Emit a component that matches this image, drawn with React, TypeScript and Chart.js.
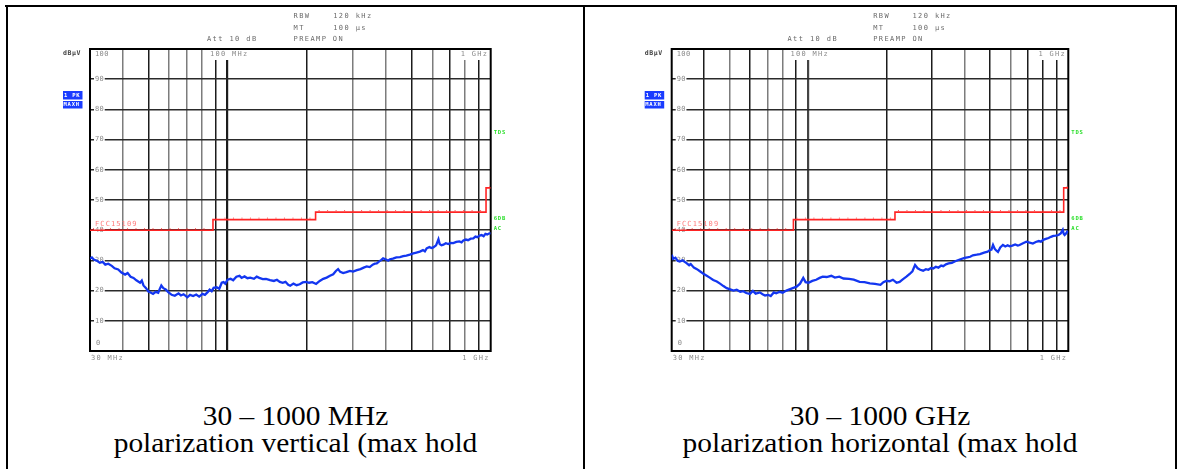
import React, { useEffect, useRef } from 'react';
import { Chart, registerables } from 'chart.js';

Chart.register(...registerables);

// ---------- data ----------
const X_GRID_MHZ = [30, 40, 50, 60, 70, 80, 90, 100, 200, 300, 400, 500, 600, 700, 800, 900, 1000];
const Y_TICKS = [0, 10, 20, 30, 40, 50, 60, 70, 80, 90, 100];

const LIMIT_FREQ = [30, 88, 216, 960, 1000];
const LIMIT_LEVEL = [40, 43.5, 46, 54, 54];
const LIMIT_NAME = 'FCC15109';

const VERT_FREQ = [
  30, 30.5, 31, 32, 32.7, 33.5, 34.3, 35.2, 36.3, 37.2, 38.4, 39.5, 40.8, 41.7, 42.8, 43.9, 45, 46.5, 47.2, 47.9,
  49, 50, 51, 52.1, 53.3, 54.5, 55.2, 56, 57, 58.2, 59.5, 61.3, 63, 65.1, 66.5, 68, 70.3, 72, 74, 76,
  78, 80.3, 82, 84, 85.5, 87, 88.5, 90.9, 93, 95, 96.5, 98, 100, 102.7, 105, 108, 111, 113, 116, 119,
  122, 126, 129, 132, 136, 140, 145, 150, 154, 158, 162, 166, 170, 173, 178, 183, 188, 193, 199, 204,
  210, 217, 224, 231, 238, 245, 252, 258, 263, 268, 275, 283, 292, 300, 310, 320, 329, 338, 347, 356,
  363, 369, 376, 383, 390, 400, 408, 414, 425, 438, 452, 465, 478, 493, 508, 522, 538, 553, 562, 571,
  585, 596, 605, 620, 633, 640, 650, 661, 675, 690, 705, 721, 740, 760, 775, 787, 805, 820, 840, 859,
  875, 890, 908, 924, 940, 955, 970, 985, 1000,
];
const VERT_LEVEL = [
  30.6, 31.0, 30.3, 29.8, 29.2, 29.5, 28.6, 28.9, 28.2, 27.4, 27.0, 26.0, 25.3, 25.8, 24.6, 24.2, 23.4, 22.6, 23.3, 21.7,
  20.8, 19.7, 19.4, 18.9, 19.6, 19.3, 20.5, 21.7, 20.8, 20.4, 19.5, 18.6, 18.3, 19.1, 18.4, 18.8, 17.8, 18.6, 18.2, 18.7,
  18.0, 18.9, 18.6, 19.5, 20.3, 19.8, 20.9, 21.1, 20.6, 22.6, 22.8, 22.3, 23.6, 23.9, 23.4, 24.6, 24.9, 24.2, 24.7, 24.1,
  24.3, 23.9, 24.6, 24.2, 23.8, 23.9, 23.5, 23.2, 23.6, 22.9, 22.6, 22.9, 21.9, 21.6, 22.3, 21.8, 22.1, 22.7, 22.9, 22.6,
  22.8, 22.2, 23.2, 23.9, 24.3, 24.9, 25.4, 26.5, 27.1, 26.2, 25.8, 26.1, 26.5, 26.3, 26.8, 27.1, 27.6, 28.0, 27.8, 28.6,
  28.9, 29.0, 29.6, 30.1, 30.7, 30.3, 29.9, 30.4, 30.6, 31.0, 31.1, 31.4, 31.6, 31.9, 32.3, 32.6, 32.9, 33.4, 33.0, 34.0,
  34.4, 34.1, 34.3, 35.0, 37.0, 35.4, 35.0, 35.2, 35.7, 35.4, 35.8, 35.7, 36.1, 36.3, 36.0, 36.6, 36.9, 36.7, 37.2, 37.3,
  37.9, 37.7, 38.2, 38.4, 38.0, 38.8, 38.6, 38.9, 39.0,
];

const HORIZ_FREQ = [
  30, 30.4, 31, 31.6, 32.2, 33, 34.2, 35, 35.5, 36.5, 37.5, 38.5, 39.7, 40.9, 42, 43.3, 44.7, 46, 47.4, 48.8,
  50.3, 51.8, 53.3, 55, 56.5, 58, 59.9, 61.5, 63, 65.4, 67, 68.5, 70.4, 72, 74, 75.6, 78, 80, 82.7, 85,
  88, 90.5, 93.3, 96, 98, 100.6, 104, 107.6, 111, 114, 118, 123, 127, 132, 137, 144, 150, 158, 165, 173,
  181, 190, 195, 200, 206, 212, 219, 225, 232, 239, 246, 252, 258, 264, 270, 277, 284, 290, 297, 303,
  310, 317, 325, 331, 339, 347, 357, 368, 383, 400, 410, 420, 430, 445, 458, 475, 490, 500, 507, 514,
  522, 530, 537, 548, 561, 573, 585, 595, 610, 625, 640, 650, 670, 690, 710, 731, 750, 770, 785, 801,
  820, 840, 858, 876, 895, 917, 935, 952, 960, 968, 980, 990, 1000,
];
const HORIZ_LEVEL = [
  31.9, 30.5, 30.9, 29.9, 29.6, 30.0, 29.1, 28.4, 28.8, 27.6, 27.1, 26.4, 25.6, 24.9, 24.3, 23.5, 23.0, 22.3, 21.5, 20.8,
  20.4, 20.0, 20.3, 19.6, 19.8, 19.2, 18.9, 19.9, 19.0, 19.4, 18.8, 18.4, 18.6, 18.2, 19.4, 19.1, 19.6, 19.3, 20.0, 20.4,
  20.9, 21.3, 22.3, 24.2, 22.8, 22.6, 23.2, 23.6, 24.2, 24.6, 24.5, 24.9, 24.3, 24.6, 24.0, 23.9, 23.6, 22.9, 22.8, 22.4,
  22.2, 21.9, 22.8, 23.2, 23.1, 23.6, 22.6, 22.9, 23.8, 24.6, 25.5, 26.4, 28.5, 27.4, 26.9, 26.6, 27.1, 26.9, 27.5, 27.3,
  27.9, 27.6, 28.3, 28.1, 28.7, 29.0, 29.2, 29.7, 30.3, 30.8, 31.0, 31.2, 31.7, 31.9, 32.1, 32.6, 32.9, 33.4, 33.6, 35.1,
  33.8, 33.2, 32.8, 34.3, 35.1, 34.6, 35.0, 34.7, 34.9, 35.3, 34.9, 35.1, 35.7, 36.2, 35.9, 35.6, 36.1, 36.4, 36.2, 36.8,
  37.1, 37.4, 37.8, 38.1, 38.2, 38.4, 38.9, 40.1, 38.8, 38.4, 38.9, 39.5, 39.2,
];

const HEADER_RBW = ['RBW', '120 kHz'];
const HEADER_MT = ['MT', '100 µs'];
const HEADER_PREAMP = 'PREAMP ON';
const HEADER_ATT = 'Att 10 dB';
const UNIT_LABEL = 'dBµV';
const TRACE_TAGS = ['1 PK', 'MAXH'];
const SIDE_TAGS = ['TDS', '6DB', 'AC'];
const FREQ_LABEL_MID = '100 MHz';
const FREQ_LABEL_START = '30 MHz';
const FREQ_LABEL_END = '1 GHz';

const CAPTION_LEFT = ['30 – 1000 MHz', 'polarization vertical (max hold'];
const CAPTION_RIGHT = ['30 – 1000 GHz', 'polarization horizontal (max hold'];

// ---------- styles ----------
const GREY = '#7c7c7c';
const DARK = '#1c1c1c';
const LEFT_VGRID: Record<number, string> = {
  40: GREY, 50: DARK, 60: GREY, 70: GREY, 80: GREY, 90: DARK, 100: DARK,
  200: DARK, 300: GREY, 400: GREY, 500: DARK, 600: GREY, 700: DARK, 800: GREY, 900: DARK,
};
const RIGHT_VGRID: Record<number, string> = {
  40: DARK, 50: GREY, 60: DARK, 70: GREY, 80: GREY, 90: DARK, 100: '#444',
  200: DARK, 300: DARK, 400: GREY, 500: DARK, 600: GREY, 700: DARK, 800: DARK, 900: DARK,
};

const MONO = '"DejaVu Sans Mono", monospace';

function setFont(ctx: CanvasRenderingContext2D, size: number, weight: string, spacing: number) {
  ctx.font = `${weight} ${size}px ${MONO}`;
  try {
    (ctx as any).letterSpacing = `${spacing}px`;
  } catch (e) {
    /* ignore */
  }
}

function makeOverlay() {
  return {
    id: 'analyzerOverlay',
    beforeDatasetsDraw(chart: any) {
      const { ctx, chartArea } = chart;
      const { left, right, top, bottom } = chartArea;
      const w = right - left;
      const h = bottom - top;
      const yScale = chart.scales.y;
      ctx.save();
      ctx.textBaseline = 'middle';
      ctx.textAlign = 'left';

      // y labels inside the grid
      setFont(ctx, 7, 'normal', 0.4);
      Y_TICKS.forEach((v) => {
        const txt = String(v);
        const tw = ctx.measureText(txt).width;
        let x = left + 5;
        let y = yScale.getPixelForValue(v);
        if (v === 100) y = top + 5;
        if (v === 0) {
          x = left + 6;
          y = bottom - 8;
        }
        ctx.fillStyle = '#fff';
        ctx.fillRect(x - 1, y - 3.5, tw + 1.5, 7);
        ctx.fillStyle = '#8a8a8a';
        ctx.fillText(txt, x, y);
      });

      // top frequency labels
      setFont(ctx, 7, 'normal', 1.3);
      [
        [FREQ_LABEL_MID, left + 0.2995 * w],
        [FREQ_LABEL_END, left + 0.925 * w],
      ].forEach(([txt, x]: any) => {
        const tw = ctx.measureText(txt).width;
        ctx.fillStyle = '#fff';
        ctx.fillRect(x - 1, top + 1, tw + 1, 10);
        ctx.fillStyle = '#8a8a8a';
        ctx.fillText(txt, x, top + 5);
      });

      // limit line name
      setFont(ctx, 7, 'normal', 1.1);
      ctx.fillStyle = '#ff7a7a';
      ctx.fillText(LIMIT_NAME, left + 5, top + 0.58 * h);

      // frame
      ctx.strokeStyle = '#000';
      ctx.lineWidth = 2;
      ctx.strokeRect(left, top, w, h);
      ctx.restore();
    },
    afterDatasetsDraw(chart: any) {
      // small marker dots just above the limit line (instrument style)
      const { ctx, scales } = chart;
      ctx.save();
      ctx.strokeStyle = '#ff5050';
      ctx.lineWidth = 1;
      ctx.setLineDash([1, 7.5]);
      ctx.beginPath();
      for (let i = 0; i < LIMIT_FREQ.length - 1; i++) {
        const x0 = scales.x.getPixelForValue(LIMIT_FREQ[i]);
        const x1 = scales.x.getPixelForValue(LIMIT_FREQ[i + 1]);
        const y = scales.y.getPixelForValue(LIMIT_LEVEL[i]) - 1.5;
        ctx.moveTo(x0 + 3, y);
        ctx.lineTo(x1 - 1, y);
      }
      ctx.stroke();
      ctx.restore();
    },
    afterDraw(chart: any) {
      const { ctx, chartArea } = chart;
      const { left, right, top, bottom } = chartArea;
      const w = right - left;
      const h = bottom - top;
      ctx.save();
      ctx.textBaseline = 'middle';
      ctx.textAlign = 'left';

      // header texts
      setFont(ctx, 7, 'normal', 1.4);
      ctx.fillStyle = '#6a6a6a';
      const hx = left + 0.508 * w;
      const hx2 = left + 0.607 * w;
      ctx.fillText(HEADER_RBW[0], hx, top - 33);
      ctx.fillText(HEADER_RBW[1], hx2, top - 33);
      ctx.fillText(HEADER_MT[0], hx, top - 21);
      ctx.fillText(HEADER_MT[1], hx2, top - 21);
      ctx.fillText(HEADER_PREAMP, hx, top - 10);
      ctx.fillText(HEADER_ATT, left + 0.292 * w, top - 10);

      // unit
      setFont(ctx, 6.5, 'bold', 0.6);
      ctx.fillStyle = '#444';
      ctx.fillText(UNIT_LABEL, left - 27, top + 4);

      // trace tags
      ctx.fillStyle = '#1a3cff';
      ctx.fillRect(left - 27, top + 42, 19.5, 8.5);
      ctx.fillRect(left - 27, top + 52, 19.5, 7.5);
      setFont(ctx, 5.5, 'bold', 0.8);
      ctx.fillStyle = '#fff';
      ctx.fillText(TRACE_TAGS[0], left - 26, top + 46.5);
      ctx.fillText(TRACE_TAGS[1], left - 26.5, top + 56);

      // green side tags
      setFont(ctx, 5.5, 'bold', 0.8);
      ctx.fillStyle = '#2adf2a';
      ctx.fillText(SIDE_TAGS[0], right + 3, top + 0.278 * h);
      ctx.fillText(SIDE_TAGS[1], right + 3, top + 0.56 * h);
      ctx.fillText(SIDE_TAGS[2], right + 3, top + 0.593 * h);

      // bottom frequency labels
      setFont(ctx, 7, 'normal', 1.3);
      ctx.fillStyle = '#8a8a8a';
      ctx.fillText(FREQ_LABEL_START, left + 1, bottom + 7);
      ctx.textAlign = 'right';
      ctx.fillText(FREQ_LABEL_END, right - 1, bottom + 7);
      ctx.restore();
    },
  };
}

type Geom = { left: number; width: number; pad: { left: number; right: number; top: number; bottom: number } };

function AnalyzerChart({
  freq,
  level,
  vgrid,
  geom,
}: {
  freq: number[];
  level: number[];
  vgrid: Record<number, string>;
  geom: Geom;
}) {
  const ref = useRef<HTMLCanvasElement>(null);
  useEffect(() => {
    if (!ref.current) return;
    const chart = new Chart(ref.current, {
      type: 'line',
      data: {
        datasets: [
          {
            data: LIMIT_FREQ.map((f, i) => ({ x: f, y: LIMIT_LEVEL[i] })),
            borderColor: '#ff2424',
            borderWidth: 1.6,
            stepped: true,
            pointRadius: 0,
            fill: false,
          },
          {
            data: freq.map((f, i) => ({ x: f, y: level[i] })),
            borderColor: '#1336f0',
            borderWidth: 2.3,
            pointRadius: 0,
            tension: 0,
            fill: false,
          },
        ],
      } as any,
      options: {
        responsive: false,
        animation: false,
        events: [],
        layout: { padding: geom.pad },
        plugins: { legend: { display: false }, tooltip: { enabled: false } },
        scales: {
          x: {
            type: 'logarithmic',
            min: 30,
            max: 1000,
            afterBuildTicks: (axis: any) => {
              axis.ticks = X_GRID_MHZ.map((v) => ({ value: v }));
            },
            ticks: { display: false },
            border: { display: false },
            grid: {
              drawTicks: false,
              color: (c: any) => vgrid[c.tick?.value] || 'rgba(0,0,0,0)',
              lineWidth: (c: any) => (c.tick?.value === 100 ? 2.2 : 1.5),
            },
          },
          y: {
            type: 'linear',
            min: 0,
            max: 100,
            ticks: { display: false, stepSize: 10 },
            border: { display: false },
            grid: {
              drawTicks: false,
              color: (c: any) => (c.tick?.value === 0 || c.tick?.value === 100 ? 'rgba(0,0,0,0)' : '#2a2a2a'),
              lineWidth: 1.5,
            },
          },
        },
      } as any,
      plugins: [makeOverlay() as any],
    });
    return () => chart.destroy();
  }, []);
  return (
    <canvas
      ref={ref}
      width={geom.width}
      height={362}
      style={{ position: 'absolute', left: geom.left, top: 8, width: geom.width, height: 362 }}
    />
  );
}

const LEFT_GEOM: Geom = { left: 8, width: 574, pad: { left: 82, right: 91.3, top: 41, bottom: 19 } };
const RIGHT_GEOM: Geom = { left: 586, width: 588, pad: { left: 85.7, right: 105.7, top: 41, bottom: 19 } };

function Caption({ lines, left, width }: { lines: string[]; left: number; width: number }) {
  return (
    <div
      style={{
        position: 'absolute',
        left,
        width,
        top: 403,
        textAlign: 'center',
        fontFamily: '"Liberation Serif", "Times New Roman", serif',
        fontSize: 27,
        lineHeight: '27px',
        color: '#000',
        transform: 'scaleX(1.09)',
        transformOrigin: 'center',
        whiteSpace: 'nowrap',
      }}
    >
      {lines.map((l, i) => (
        <div key={i}>{l}</div>
      ))}
    </div>
  );
}

export default function App() {
  const border = (l: number, t: number, w: number, h: number) => (
    <div style={{ position: 'absolute', left: l, top: t, width: w, height: h, background: '#000' }} />
  );
  return (
    <div
      style={{
        position: 'absolute',
        left: 0,
        top: 0,
        width: 1179,
        height: 469,
        background: '#fff',
        overflow: 'hidden',
      }}
    >
      {border(5, 5, 1172, 2)}
      {border(6, 5, 2, 470)}
      {border(583, 5, 2, 470)}
      {border(1175, 5, 2, 470)}
      <AnalyzerChart freq={VERT_FREQ} level={VERT_LEVEL} vgrid={LEFT_VGRID} geom={LEFT_GEOM} />
      <AnalyzerChart freq={HORIZ_FREQ} level={HORIZ_LEVEL} vgrid={RIGHT_VGRID} geom={RIGHT_GEOM} />
      <Caption lines={CAPTION_LEFT} left={8} width={575} />
      <Caption lines={CAPTION_RIGHT} left={585} width={590} />
    </div>
  );
}
